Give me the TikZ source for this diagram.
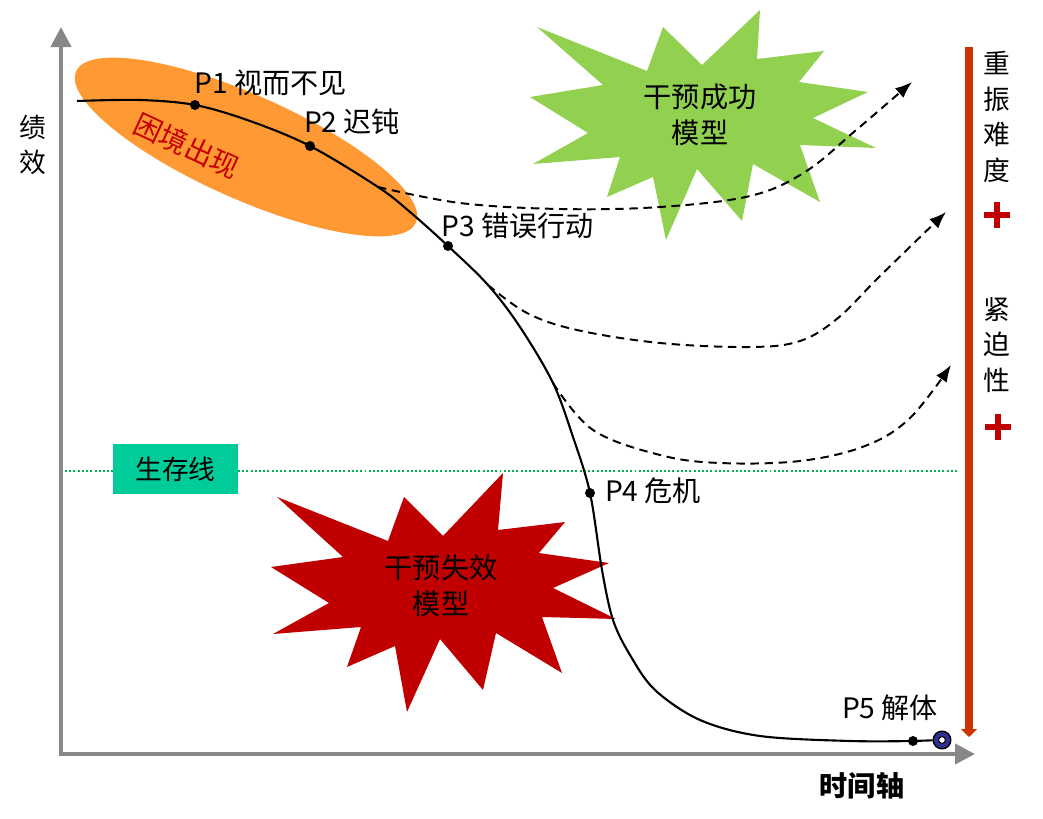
\documentclass[tikz,border=0pt]{standalone}
\usepackage{fontspec}
\setmainfont{Noto Sans CJK SC}
\usepackage{tikz}
\usetikzlibrary{arrows.meta}
\definecolor{axisgray}{HTML}{878787}
\definecolor{blobor}{HTML}{FF9933}
\definecolor{okgreen}{HTML}{92D050}
\definecolor{failred}{HTML}{C00000}
\definecolor{barred}{HTML}{CC3300}
\definecolor{linegreen}{HTML}{00B050}
\definecolor{boxteal}{HTML}{00CC99}
\definecolor{ringblue}{HTML}{2E3192}
\tikzset{>={Latex[length=0.42cm,width=0.32cm]},
  axis/.style={draw=axisgray, line width=0.1cm, -{Triangle[width=0.5cm,length=0.5cm]}},
  curve/.style={black, line width=1.5pt},
  branch/.style={black, line width=1.4pt, dash pattern=on 6pt off 4pt, ->},
  pdot/.style={circle, fill=black, inner sep=0pt, minimum size=0.25cm},
  lbl/.style={font=\fontsize{20}{24}\selectfont, inner sep=0pt},
  vlbl/.style={font=\fontsize{19}{25.5}\selectfont, align=center, inner sep=0pt},
  startext/.style={font=\fontsize{20}{25.6}\selectfont, align=center, inner sep=0pt},
  redplus/.style={failred, line width=0.17cm}
}

\begin{document}
\begin{tikzpicture}[x=0.025cm, y=-0.025cm]
\useasboundingbox (0,0) rectangle (1043,819);

% axes
\coordinate (org) at (61,754);
\coordinate (ytop) at (61,27);
\coordinate (xend) at (975,754);
\draw[axis] (61,756) -- (ytop);
\draw[axis] (59,754) -- (xend);
\node[lbl, align=center, font=\fontsize{19}{25}\selectfont] (perf) at (33,145) {绩\\效};
\node[lbl] (time) at (862,786) {\bfseries 时间轴};

% trouble zone
\fill[blobor, rotate around={-24:(246,147)}] (246,147) ellipse [x radius=4.65cm, y radius=1.3cm];
\node[lbl, text=failred!90!red, rotate=-25] (trouble) at (187,146) {困境出现};

% survival line
\coordinate (sl) at (65,471);
\coordinate (sr) at (958,471);
\draw[linegreen, line width=1.4pt, dash pattern=on 1.4pt off 1.6pt] (sl) -- (sr);
\node[fill=boxteal, minimum width=3.125cm, minimum height=1.25cm, inner sep=0pt,
  font=\fontsize{19}{22}\selectfont] (survive) at (175.5,469) {生存线};

% success burst
\fill[okgreen] (537,27) -- (647,71) -- (663,27) -- (702,65) -- (760,10) -- (757,59)
  -- (824,51) -- (799,82) -- (868,92) -- (813,118) -- (876,148) -- (800,145)
  -- (820,202) -- (753,164) -- (742,221) -- (697,169) -- (666,240) -- (653,177)
  -- (607,197) -- (620,157) -- (533,164) -- (588,133) -- (530,97) -- (603,85) -- cycle;
\node[startext] (success) at (700,115) {干预成功\\模型};

% failure burst
\fill[failred] (277,497) -- (388,541) -- (404,497) -- (443,536) -- (503,473) -- (498,530)
  -- (565,522) -- (539,553) -- (609,563) -- (553,588) -- (616,619) -- (542,617)
  -- (562,673) -- (496,633) -- (483,690) -- (440,639) -- (407,712) -- (395,646)
  -- (347,667) -- (361,627) -- (273,634) -- (329,603) -- (271,567) -- (343,557) -- cycle;
\node[startext] (failure) at (441,586) {干预失效\\模型};

% points on the curve
\coordinate (c0) at (77,101);
\coordinate (p1) at (195,105);
\coordinate (p2) at (310,146);
\coordinate (b1) at (378,187);
\coordinate (p3) at (448,246);
\coordinate (b2) at (488,285);
\coordinate (b3) at (553,383);
\coordinate (p4) at (590,493);
\coordinate (p5) at (913,741);
\coordinate (t1) at (912,82);
\coordinate (t2) at (946,212);
\coordinate (t3) at (951,365);

% recovery branches
\draw[branch] plot[smooth, tension=0.6] coordinates {(b1) (460,203) (560,209) (660,207) (750,196) (805,172) (855,131) (t1)};
\draw[branch] plot[smooth, tension=0.6] coordinates {(b2) (527,313) (577,330) (660,343) (750,347) (800,341) (838,318) (880,276) (t2)};
\draw[branch] plot[smooth, tension=0.6] coordinates {(b3) (593,430) (660,455) (720,463) (800,461) (865,446) (910,418) (t3)};

% main curve
\draw[curve] plot[smooth, tension=0.55] coordinates {(c0) (140,100) (p1) (250,121) (p2) (b1) (410,212) (p3) (b2) (520,327) (b3) (573,437) (p4) (602,570) (613,620) (630,655) (655,690) (700,720) (760,736) (850,741) (p5)};
\node[circle, draw=black, fill=ringblue, line width=1pt, minimum size=0.44cm, inner sep=0pt] (ring) at (942,740) {};
\draw[curve] (p5) -- (ring);
\node[circle, draw=black, fill=white, line width=0.7pt, minimum size=0.17cm, inner sep=0pt] at (ring) {};

% dots and labels
\foreach \p in {p1,p2,p3,p4,p5}
  \node[pdot] (\p dot) at (\p) {};
\node[lbl] (l1) at (271,83) {P1 视而不见};
\node[lbl] (l2) at (352,122) {P2 迟钝};
\node[lbl] (l3) at (518,226) {P3 错误行动};
\node[lbl] (l4) at (653,491) {P4 危机};
\node[lbl] (l5) at (890,708) {P5 解体};

% pressure bar
\coordinate (bartop) at (969,47);
\coordinate (barend) at (969,737);
\draw[barred, line width=0.2cm, -{Triangle[width=0.4cm,length=0.2cm]}] (bartop) -- (barend);
\node[vlbl] (hard) at (997,117) {重\\振\\难\\度};
\node[vlbl] (urgent) at (997,345) {紧\\迫\\性};
\draw[redplus] (984,215) -- (1010,215) (997,202) -- (997,228);
\draw[redplus] (985,427) -- (1011,427) (998,414) -- (998,440);
\end{tikzpicture}
\end{document}
